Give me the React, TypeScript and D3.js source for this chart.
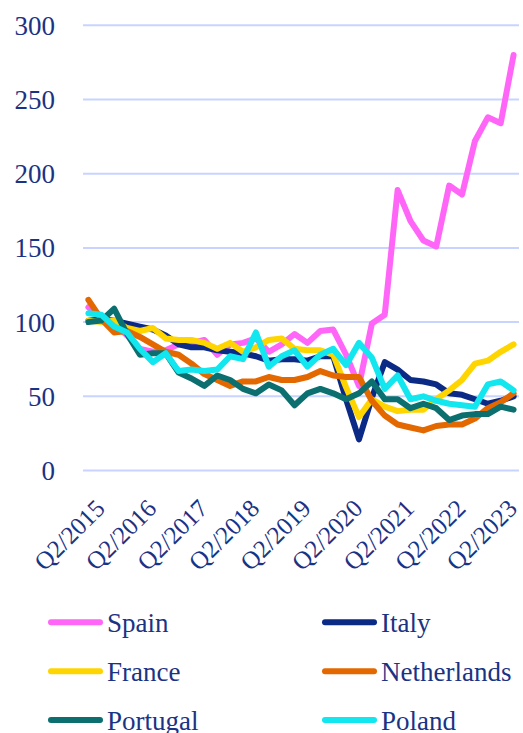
import React from "react";
import * as d3 from "d3";

const quarters: string[] = [];
for (let y = 2015; y <= 2023; y++) {
  for (let q = 1; q <= 4; q++) {
    if (y === 2023 && q > 2) break;
    quarters.push(`Q${q}/${y}`);
  }
}

const tickLabels = ["Q2/2015", "Q2/2016", "Q2/2017", "Q2/2018", "Q2/2019", "Q2/2020", "Q2/2021", "Q2/2022", "Q2/2023"];
const yTicks = [0, 50, 100, 150, 200, 250, 300];

const spain = [110, 103, 99, 91, 82, 80, 81, 85, 86, 88, 78, 85, 86, 89, 80, 85, 92, 86, 94, 95, 78, 57, 99, 105, 189, 168, 155, 151, 192, 186, 222, 238, 234, 280];
const italy = [101, 102, 101, 99, 97, 95, 91, 85, 83, 83, 81, 80, 79, 77, 74, 75, 75, 74, 77, 77, 48, 21, 49, 73, 68, 61, 60, 58, 52, 51, 48, 45, 47, 50];
const france = [101, 100, 101, 96, 94, 96, 89, 88, 88, 86, 82, 86, 80, 83, 88, 89, 82, 81, 81, 78, 56, 36, 48, 43, 40, 41, 41, 48, 54, 61, 72, 74, 80, 85];
const netherlands = [115, 102, 93, 94, 90, 85, 80, 78, 72, 65, 61, 57, 60, 60, 63, 61, 61, 63, 67, 64, 63, 63, 47, 37, 31, 29, 27, 30, 31, 31, 35, 42, 46, 52];
const portugal = [100, 101, 109, 92, 78, 79, 79, 66, 62, 57, 64, 61, 55, 52, 58, 54, 44, 52, 55, 52, 48, 52, 60, 48, 48, 42, 45, 42, 34, 37, 38, 38, 43, 41];
const poland = [106, 105, 97, 93, 82, 73, 79, 67, 68, 67, 68, 77, 75, 93, 70, 77, 81, 70, 78, 82, 71, 86, 76, 55, 64, 48, 50, 47, 45, 44, 43, 58, 60, 54];

const seriesNames = ["Spain", "Italy", "France", "Netherlands", "Portugal", "Poland"];
const seriesValues = [spain, italy, france, netherlands, portugal, poland];
const seriesColors = ["#ff66f8", "#0b2a86", "#ffd500", "#e46800", "#0b6f6f", "#12e6ee"];

const W = 523;
const H = 733;
const FONT = "'Liberation Serif', 'Times New Roman', serif";
const TEXT = "#1a3384";

export default function App() {
  const x = d3.scalePoint<string>().domain(quarters).range([83, 519]).padding(0.42);
  const y = d3.scaleLinear().domain([0, 300]).range([470.5, 25.3]);
  const line = d3
    .line<number>()
    .x((_, i) => x(quarters[i]) as number)
    .y((d) => y(d))
    .curve(d3.curveLinear);

  return (
    <svg width={W} height={H} style={{ position: "absolute", left: 0, top: 0, background: "#fff" }}>
      {yTicks.map((t) => (
        <g key={t}>
          <line x1={83} x2={519} y1={y(t)} y2={y(t)} stroke="#c8d4ff" strokeWidth={2} />
          <text x={55} y={y(t)} dy="0.35em" textAnchor="end" fontFamily={FONT} fontSize={27} fill={TEXT}>
            {t}
          </text>
        </g>
      ))}
      {tickLabels.map((lab) => {
        const px = (x(lab) as number) + 5;
        const py = 510;
        return (
          <text
            key={lab}
            x={px}
            y={py}
            transform={`rotate(-45 ${px} ${py})`}
            textAnchor="end"
            fontFamily={FONT}
            fontSize={25}
            fill={TEXT}
          >
            {lab}
          </text>
        );
      })}
      {seriesValues.map((vals, k) => (
        <path
          key={seriesNames[k]}
          d={line(vals) || ""}
          fill="none"
          stroke={seriesColors[k]}
          strokeWidth={6}
          strokeLinejoin="round"
          strokeLinecap="round"
        />
      ))}
      {seriesNames.map((name, k) => {
        const col = k % 2;
        const row = Math.floor(k / 2);
        const ly = 622.3 + row * 48.9;
        const lx = col === 0 ? 49 : 323;
        return (
          <g key={name}>
            <line x1={lx + 2} x2={lx + 51} y1={ly} y2={ly} stroke={seriesColors[k]} strokeWidth={6} strokeLinecap="round" />
            <text x={lx + 58} y={ly} dy="0.35em" fontFamily={FONT} fontSize={27} fill={TEXT}>
              {name}
            </text>
          </g>
        );
      })}
    </svg>
  );
}
